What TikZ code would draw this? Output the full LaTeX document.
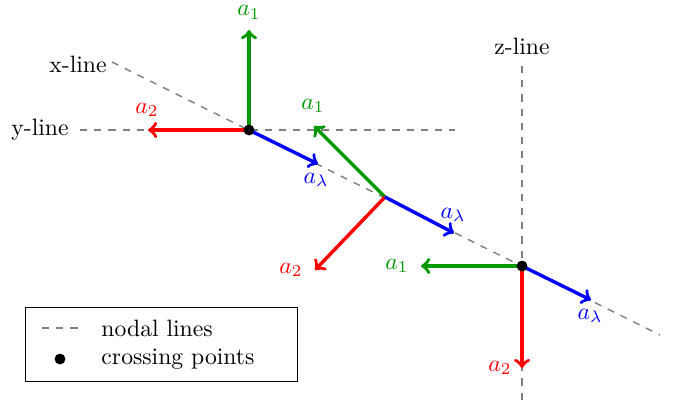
\documentclass[tikz,border=0pt]{standalone}
\definecolor{agreen}{rgb}{0,0.6,0}
\tikzset{
  nodal/.style={gray, dashed, semithick},
  vec/.style={->, line width=1.45pt},
  va1/.style={vec, agreen},
  va2/.style={vec, red},
  val/.style={vec, blue},
  la1/.style={text=agreen, inner sep=1pt},
  la2/.style={text=red, inner sep=1pt},
  lal/.style={text=blue, inner sep=1pt},
  cross/.style={circle, fill=black, inner sep=0pt, minimum size=4.6pt},
  lname/.style={inner sep=1pt}
}
\begin{document}
\begin{tikzpicture}[x=0.4225pt, y=-0.4225pt]
\useasboundingbox (0,0) rectangle (688,408);
% nodal lines
\coordinate (xs) at (112,62);
\coordinate (xe) at (660,335);
\coordinate (ys) at (80,130);
\coordinate (ye) at (455,130);
\coordinate (zs) at (522,66);
\coordinate (ze) at (522,402);
\draw[nodal] (xs) -- (xe);
\draw[nodal] (ys) -- (ye);
\draw[nodal] (zs) -- (ze);
\node[lname] (xl) at (78,64) {x-line};
\node[lname] (yl) at (40,130) {y-line};
\node[lname] (zl) at (522,46) {z-line};
% points
\coordinate (P1) at (249,130);
\coordinate (M) at (385,197);
\coordinate (P2) at (522,266);
% point 1
\coordinate (P1g) at (249,30);
\coordinate (P1r) at (148,130);
\coordinate (P1b) at (318,164);
\draw[va1] (P1) -- (P1g);
\draw[va2] (P1) -- (P1r);
\draw[val] (P1) -- (P1b);
\node[la1] (t1g) at (249,12.5) {$a_1$};
\node[la2] (t1r) at (147,110) {$a_2$};
\node[lal] (t1b) at (316,180) {$a_\lambda$};
% middle
\coordinate (Mg) at (314,126);
\coordinate (Mr) at (315,270);
\coordinate (Mb) at (454,233);
\draw[va1] (M) -- (Mg);
\draw[va2] (M) -- (Mr);
\draw[val] (M) -- (Mb);
\node[la1] (tmg) at (313,106) {$a_1$};
\node[la2] (tmr) at (291,270) {$a_2$};
\node[lal] (tmb) at (453,215) {$a_\lambda$};
% point 2
\coordinate (P2g) at (421,266);
\coordinate (P2r) at (522,368);
\coordinate (P2b) at (591,300);
\draw[va1] (P2) -- (P2g);
\draw[va2] (P2) -- (P2r);
\draw[val] (P2) -- (P2b);
\node[la1] (t2g) at (397,266) {$a_1$};
\node[la2] (t2r) at (500,368) {$a_2$};
\node[lal] (t2b) at (590,316) {$a_\lambda$};
\node[cross] (c1) at (P1) {};
\node[cross] (c2) at (P2) {};
% legend
\node[draw, thin, minimum width=272*0.4225pt, minimum height=74*0.4225pt, inner sep=0pt] (leg) at (161,344) {};
\coordinate (ld1) at (42,328);
\coordinate (ld2) at (78,328);
\draw[nodal] (ld1) -- (ld2);
\node[anchor=west, inner sep=0pt] (lt1) at (101,328) {nodal lines};
\node[cross] (ldot) at (60,359) {};
\node[anchor=west, inner sep=0pt] (lt2) at (101,359) {crossing points};
\end{tikzpicture}
\end{document}
